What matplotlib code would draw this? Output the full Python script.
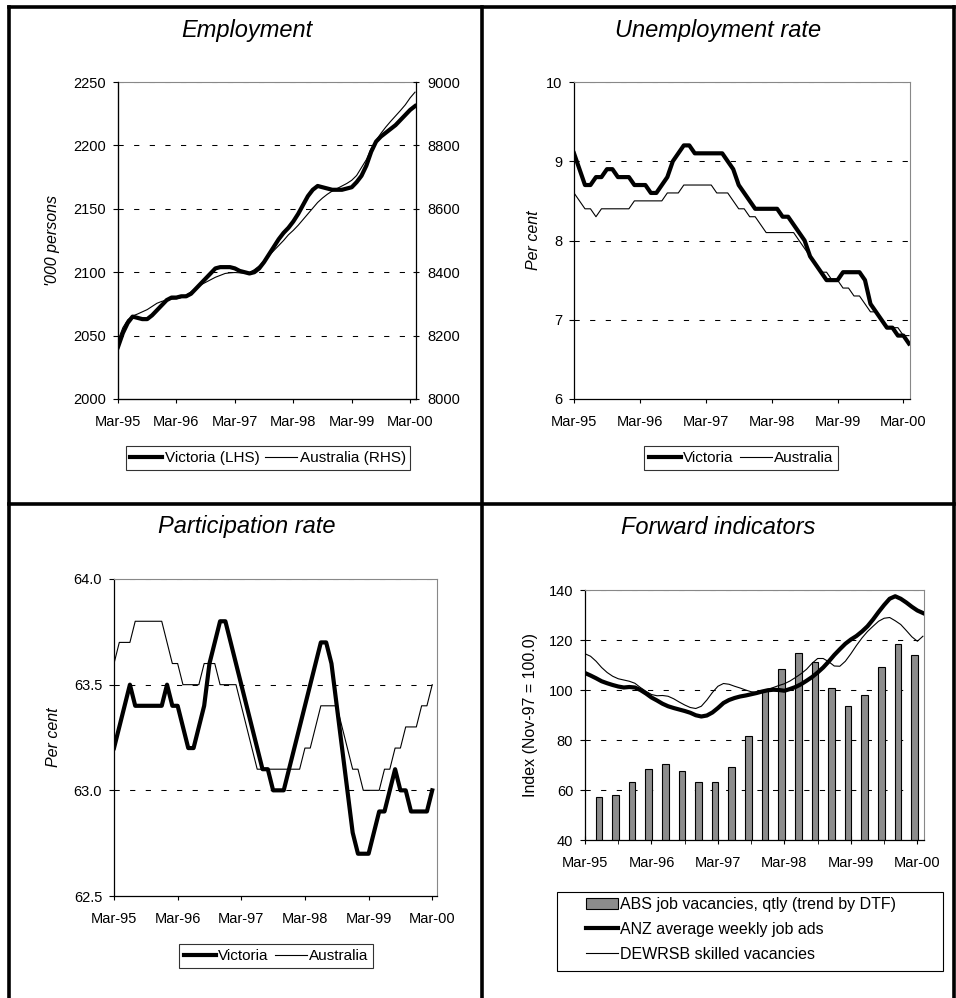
import numpy as np
import matplotlib
matplotlib.use("Agg")
import matplotlib.pyplot as plt
from matplotlib.patches import Rectangle

plt.rcParams["font.family"] = ["Liberation Sans", "DejaVu Sans"]
plt.rcParams["axes.unicode_minus"] = False

# ---- data (monthly, Mar-95 onwards) ----
year_ticks = [0, 12, 24, 36, 48, 60]
year_labels = ["Mar-95", "Mar-96", "Mar-97", "Mar-98", "Mar-99", "Mar-00"]

# Employment ('000 persons)
emp_vic = [2041, 2052, 2060, 2065, 2064, 2063, 2063, 2066, 2070, 2074, 2078, 2080,
           2080, 2081, 2081, 2083, 2087, 2091, 2095, 2099, 2103, 2104, 2104, 2104,
           2103, 2101, 2100, 2099, 2100, 2103, 2108, 2114, 2120, 2126, 2131, 2135,
           2140, 2146, 2153, 2160, 2165, 2168, 2167, 2166, 2165, 2165, 2165, 2166,
           2167, 2171, 2176, 2184, 2195, 2203, 2207, 2210, 2213, 2216, 2220, 2224,
           2228, 2231]
emp_aus = [8185, 8225, 8250, 8262, 8268, 8275, 8282, 8292, 8302, 8308, 8312, 8315,
           8316, 8320, 8328, 8338, 8350, 8360, 8368, 8376, 8384, 8390, 8396, 8398,
           8399, 8398, 8397, 8399, 8408, 8420, 8436, 8452, 8468, 8484, 8500, 8518,
           8532, 8548, 8566, 8584, 8602, 8620, 8634, 8646, 8656, 8664, 8672, 8680,
           8690, 8705, 8730, 8755, 8790, 8815, 8838, 8858, 8876, 8893, 8910, 8928,
           8950, 8968]

# Unemployment rate (per cent)
unemp_vic = [9.1, 8.9, 8.7, 8.7, 8.8, 8.8, 8.9, 8.9, 8.8, 8.8, 8.8, 8.7,
             8.7, 8.7, 8.6, 8.6, 8.7, 8.8, 9.0, 9.1, 9.2, 9.2, 9.1, 9.1,
             9.1, 9.1, 9.1, 9.1, 9.0, 8.9, 8.7, 8.6, 8.5, 8.4, 8.4, 8.4,
             8.4, 8.4, 8.3, 8.3, 8.2, 8.1, 8.0, 7.8, 7.7, 7.6, 7.5, 7.5,
             7.5, 7.6, 7.6, 7.6, 7.6, 7.5, 7.2, 7.1, 7.0, 6.9, 6.9, 6.8,
             6.8, 6.7]
unemp_aus = [8.6, 8.5, 8.4, 8.4, 8.3, 8.4, 8.4, 8.4, 8.4, 8.4, 8.4, 8.5,
             8.5, 8.5, 8.5, 8.5, 8.5, 8.6, 8.6, 8.6, 8.7, 8.7, 8.7, 8.7,
             8.7, 8.7, 8.6, 8.6, 8.6, 8.5, 8.4, 8.4, 8.3, 8.3, 8.2, 8.1,
             8.1, 8.1, 8.1, 8.1, 8.1, 8.0, 7.9, 7.8, 7.7, 7.6, 7.6, 7.5,
             7.5, 7.4, 7.4, 7.3, 7.3, 7.2, 7.1, 7.1, 7.0, 6.9, 6.9, 6.9,
             6.8, 6.8]

# Participation rate (per cent)
part_vic = [63.2, 63.3, 63.4, 63.5, 63.4, 63.4, 63.4, 63.4, 63.4, 63.4, 63.5, 63.4,
            63.4, 63.3, 63.2, 63.2, 63.3, 63.4, 63.6, 63.7, 63.8, 63.8, 63.7, 63.6,
            63.5, 63.4, 63.3, 63.2, 63.1, 63.1, 63.0, 63.0, 63.0, 63.1, 63.2, 63.3,
            63.4, 63.5, 63.6, 63.7, 63.7, 63.6, 63.4, 63.2, 63.0, 62.8, 62.7, 62.7,
            62.7, 62.8, 62.9, 62.9, 63.0, 63.1, 63.0, 63.0, 62.9, 62.9, 62.9, 62.9,
            63.0]
part_aus = [63.6, 63.7, 63.7, 63.7, 63.8, 63.8, 63.8, 63.8, 63.8, 63.8, 63.7, 63.6,
            63.6, 63.5, 63.5, 63.5, 63.5, 63.6, 63.6, 63.6, 63.5, 63.5, 63.5, 63.5,
            63.4, 63.3, 63.2, 63.1, 63.1, 63.1, 63.1, 63.1, 63.1, 63.1, 63.1, 63.1,
            63.2, 63.2, 63.3, 63.4, 63.4, 63.4, 63.4, 63.3, 63.2, 63.1, 63.1, 63.0,
            63.0, 63.0, 63.0, 63.1, 63.1, 63.2, 63.2, 63.3, 63.3, 63.3, 63.4, 63.4,
            63.5]

# Forward indicators (index, Nov-97 = 100)
abs_vac = [57.2, 57.9, 63.0, 68.6, 70.6, 67.6, 63.2, 63.2, 69.2, 81.7,
           99.7, 108.4, 114.8, 111.3, 100.7, 93.4, 97.9, 109.4, 118.4, 114.2]
anz_ads = [106.8, 105.8, 104.7, 103.5, 102.7, 102.0, 101.4, 101.0, 101.2, 101.0, 100.0, 98.6,
           97.0, 95.8, 94.5, 93.5, 92.8, 92.2, 91.6, 90.9, 89.9, 89.4, 89.8, 91.0,
           92.8, 94.8, 96.0, 96.8, 97.4, 97.8, 98.3, 98.8, 99.4, 99.9, 100.1, 100.0,
           99.7, 100.4, 101.2, 102.3, 103.7, 105.2, 107.0, 109.0, 111.4, 114.0, 116.3, 118.5,
           120.2, 121.6, 123.4, 125.5, 128.2, 131.2, 134.0, 136.5, 137.5, 136.5, 135.0, 133.3,
           131.8, 130.8]
dewrsb = [114.5, 113.5, 111.5, 109.0, 107.0, 105.5, 104.5, 104.0, 103.5, 102.7, 101.0, 99.5,
          98.2, 97.7, 97.8, 97.5, 96.5, 95.2, 94.0, 93.0, 92.6, 93.5, 96.0, 99.0,
          101.5, 102.6, 102.3, 101.5, 100.8, 100.0, 99.3, 99.0, 99.3, 100.2, 101.0, 101.8,
          102.5, 103.6, 105.0, 106.5, 108.3, 110.7, 112.6, 112.6, 111.3, 109.6, 109.5, 111.5,
          114.5, 117.8, 120.8, 123.4, 125.5, 127.5, 128.7, 129.0, 127.7, 126.2, 123.8, 121.3,
          119.5, 121.5]

W, H = 956, 998
fig = plt.figure(figsize=(W / 100, H / 100), dpi=100)


def rect(l, t, r, b):
    return [l / W, 1 - b / H, (r - l) / W, (b - t) / H]


grid_ls = (0, (5, 10))
thick = 3.0
thin = 0.8
tick_fs = 10.5
lab_fs = 11.5
title_fs = 17
leg_fs = 11


def style_ax(ax, ylims, yticks, fmt=None):
    ax.set_xlim(0, 61.2)
    ax.set_ylim(*ylims)
    ax.set_yticks(yticks)
    if fmt:
        ax.set_yticklabels([fmt.format(v) for v in yticks])
    ax.set_xticks(year_ticks)
    ax.set_xticklabels(year_labels)
    ax.tick_params(labelsize=tick_fs, width=0.8, direction="out")
    ax.tick_params(axis="x", length=3, pad=8.5)
    ax.tick_params(axis="y", length=3.5, pad=5)
    for v in yticks[1:]:
        ax.axhline(v, color="black", lw=0.75, ls=grid_ls, zorder=0)
    for s in ["left", "bottom"]:
        ax.spines[s].set_linewidth(0.9)
    for s in ["top", "right"]:
        ax.spines[s].set_color("#888888")
        ax.spines[s].set_linewidth(0.8)


def add_legend(ax, cx, cy, **kw):
    leg = ax.legend(loc="center", bbox_to_anchor=(cx / W, 1 - cy / H),
                    bbox_transform=fig.transFigure, fontsize=leg_fs, frameon=True,
                    fancybox=False, edgecolor="black", handlelength=2.1,
                    handletextpad=0.15, borderpad=0.3, **kw)
    leg.get_frame().set_linewidth(0.8)
    return leg


def ylab(ax, text, xfrac, italic=True):
    ax.set_ylabel(text, fontsize=lab_fs, style="italic" if italic else "normal", va="center")
    ax.yaxis.set_label_coords(xfrac, 0.5)


def title(x, y, text):
    fig.text(x / W, 1 - y / H, text, ha="center", va="center",
             fontsize=title_fs, style="italic")


# ---- Employment ----
ax1 = fig.add_axes(rect(118, 82, 416, 399))
ax1b = ax1.twinx()
m = np.arange(len(emp_vic))
l1, = ax1.plot(m, emp_vic, color="black", lw=thick, label="Victoria (LHS)", zorder=3)
l2, = ax1b.plot(m, emp_aus, color="black", lw=thin, label="Australia (RHS)")
style_ax(ax1, (2000, 2250), [2000, 2050, 2100, 2150, 2200, 2250])
ax1b.set_ylim(8000, 9000)
ax1b.set_yticks([8000, 8200, 8400, 8600, 8800, 9000])
ax1b.tick_params(labelsize=tick_fs, length=5, width=0.8, direction="inout", pad=6)
ax1b.spines["right"].set_linewidth(0.9)
ax1b.spines["top"].set_visible(False)
ax1.spines["right"].set_visible(False)
ylab(ax1, "'000 persons", (53 - 118) / 298)
title(247, 30, "Employment")
add_legend(ax1, 268, 458, handles=[l1, l2], ncol=2, columnspacing=0.4)

# ---- Unemployment rate ----
ax2 = fig.add_axes(rect(574, 82, 910, 399))
m = np.arange(len(unemp_vic))
ax2.plot(m, unemp_vic, color="black", lw=thick, label="Victoria")
ax2.plot(m, unemp_aus, color="black", lw=thin, label="Australia")
style_ax(ax2, (6, 10), [6, 7, 8, 9, 10])
ylab(ax2, "Per cent", (533 - 574) / 336)
title(718, 30, "Unemployment rate")
add_legend(ax2, 741, 458, ncol=2, columnspacing=0.4)

# ---- Participation rate ----
ax3 = fig.add_axes(rect(114, 579, 437, 896))
m = np.arange(len(part_vic))
ax3.plot(m, part_vic, color="black", lw=thick, label="Victoria")
ax3.plot(m, part_aus, color="black", lw=thin, label="Australia")
style_ax(ax3, (62.5, 64.0), [62.5, 63.0, 63.5, 64.0], fmt="{:.1f}")
ax3.set_xlim(0, 60.9)
ylab(ax3, "Per cent", (53 - 114) / 323)
title(247, 527, "Participation rate")
add_legend(ax3, 276, 956, ncol=2, columnspacing=0.4)

# ---- Forward indicators ----
ax4 = fig.add_axes(rect(585, 590, 924, 840))
m = np.arange(len(anz_ads))
q = np.arange(len(abs_vac)) * 3 + 2.5
b1 = ax4.bar(q, abs_vac, width=1.2, color="#8c8c8c", edgecolor="black", lw=0.8,
             label="ABS job vacancies, qtly (trend by DTF)", zorder=2)
p1, = ax4.plot(m, anz_ads, color="black", lw=thick, label="ANZ average weekly job ads", zorder=3)
p2, = ax4.plot(m, dewrsb, color="black", lw=thin, label="DEWRSB skilled vacancies", zorder=3)
style_ax(ax4, (40, 140), [40, 60, 80, 100, 120, 140])
ax4.set_xticks(np.arange(6, 61, 12), minor=True)
ax4.tick_params(axis="x", which="both", direction="inout", length=6)
ylab(ax4, "Index (Nov-97 = 100.0)", (530 - 585) / 339, italic=False)
title(718, 527, "Forward indicators")
leg4 = ax4.legend(handles=[b1, p1, p2], loc="upper left",
                  bbox_to_anchor=(586 / W, 1 - 897 / H), bbox_transform=fig.transFigure,
                  fontsize=11.5, frameon=False, handlelength=2.0, handletextpad=0.15,
                  borderpad=0, borderaxespad=0, labelspacing=0.62)
fig.add_artist(Rectangle((557 / W, 1 - 971 / H), (943 - 557) / W, (971 - 892) / H,
                         transform=fig.transFigure, fill=False, ec="black", lw=0.8))

# ---- panel frame ----
frame_kw = dict(color="black", lw=2.6, transform=fig.transFigure)
for x in [9, 482, 954]:
    fig.add_artist(plt.Line2D([x / W, x / W], [0, 1 - 7 / H], **frame_kw))
for y in [7, 504]:
    fig.add_artist(plt.Line2D([9 / W, 954 / W], [1 - y / H, 1 - y / H], **frame_kw))

fig.savefig("out.png", dpi=100)
